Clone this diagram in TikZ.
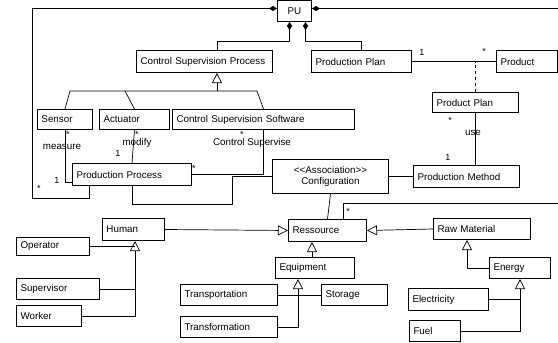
\documentclass[tikz,border=0pt]{standalone}
\usepackage{fontspec}
\setmainfont{Liberation Sans}
\usetikzlibrary{arrows.meta, positioning}

\begin{document}
\begin{tikzpicture}[x=1pt, y=-1pt, font=\fontsize{9.8}{11}\selectfont]
    \tikzstyle{cls} = [rectangle, draw=black, line width=1pt, anchor=north west, inner xsep=4pt, inner ysep=0pt, align=left]
    \tikzstyle{link} = [line width=0.7pt]
    \tikzstyle{gen} = [line width=0.7pt, -{Triangle[open, length=10pt, width=10pt]}]
    \tikzstyle{agg} = [line width=0.7pt, {Diamond[length=8pt, width=5pt]}-]
    \tikzstyle{mult} = [font=\fontsize{9}{10}\selectfont, inner sep=0pt]

    \useasboundingbox (0,0) rectangle (558,343);
    \clip (0,0) rectangle (558,343);

    % classes
    \node (pu) [cls, align=center, text width=26pt, minimum height=21pt] at (277,0) {PU};
    \node (csp) [cls, text width=128pt, minimum height=22pt] at (136,50) {Control Supervision Process};
    \node (pplan) [cls, text width=92pt, minimum height=22pt] at (311,50) {Production Plan};
    \node (product) [cls, text width=53pt, minimum height=22pt] at (496,50) {Product};
    \node (prodplan) [cls, text width=78pt, minimum height=20pt] at (432,92) {Product Plan};
    \node (sensor) [cls, text width=47pt, minimum height=20pt] at (37,109) {Sensor};
    \node (actuator) [cls, text width=62pt, minimum height=20pt] at (99,109) {Actuator};
    \node (css) [cls, text width=174pt, minimum height=20pt] at (172,109) {Control Supervision Software};
    \node (pprocess) [cls, text width=111pt, minimum height=22pt] at (72,163) {Production Process};
    \node (config) [cls, align=center, text width=108pt, minimum height=34pt] at (272,159) {{<}{<}Association{>}{>}\\Configuration};
    \node (pmethod) [cls, text width=98pt, minimum height=22pt] at (413,165) {Production Method};
    \node (human) [cls, text width=54pt, minimum height=22pt] at (102,218) {Human};
    \node (ressource) [cls, text width=70pt, minimum height=22pt] at (288,219) {Ressource};
    \node (rawmat) [cls, text width=89pt, minimum height=21pt] at (433,218) {Raw Material};
    \node (operator) [cls, text width=65pt, minimum height=18pt] at (16,237) {Operator};
    \node (supervisor) [cls, text width=75pt, minimum height=21pt] at (16,278) {Supervisor};
    \node (worker) [cls, text width=57pt, minimum height=21pt] at (16,305) {Worker};
    \node (equipment) [cls, text width=71pt, minimum height=21pt] at (275,257) {Equipment};
    \node (transport) [cls, text width=89pt, minimum height=21pt] at (180,284) {Transportation};
    \node (storage) [cls, text width=58pt, minimum height=21pt] at (321,284) {Storage};
    \node (transform) [cls, text width=89pt, minimum height=21pt] at (180,316) {Transformation};
    \node (energy) [cls, text width=53pt, minimum height=21pt] at (489,257) {Energy};
    \node (electricity) [cls, text width=72pt, minimum height=22pt] at (408,288) {Electricity};
    \node (fuel) [cls, text width=43pt, minimum height=21pt] at (409,320) {Fuel};

    % aggregations of PU
    \draw [agg] ([yshift=2.5pt]pu.west) -| (32,198) -| (pprocess.south -| 89,0)
        node [mult] at (39,188) {*};
    \draw [agg] ([yshift=2.5pt]pu.east) -| (566,203) -| (ressource.north -| 343,0)
        node [mult] at (348,211) {*};
    \draw [agg] ([xshift=-5pt]pu.south) -- ++(0,19) -| (csp.north -| 217,0);
    \draw [agg] ([xshift=11pt]pu.south) -- ++(0,19) -| (pplan.north);

    % control supervision
    \draw [gen] (217,91) -- (csp.south -| 217,0);
    \draw [link] (sensor.north) -- (70,91) -- (257,91) -- (css.north);
    \draw [link] (125,91) -- (actuator.north);

    % associations
    \draw [link] (sensor.south) |- ([yshift=-8pt]pprocess.west)
        node [mult] at (68,134) {*}
        node at (62,147) {measure}
        node [mult] at (57,180) {1};
    \draw [link] (actuator.south) -- (pprocess.north)
        node [mult] at (137,134) {*}
        node at (137,143) {modify}
        node [mult] at (118,153) {1};
    \draw [link] (css.south) |- (pprocess.east)
        node [mult] at (242,134) {*}
        node at (252,143) {Control Supervise}
        node [mult] at (194,168) {*};
    \draw [link] (pprocess.south) |- (232,204) |- (config.west);
    \draw [link] (config.east) -- (pmethod.west);
    \draw [link] (config.south) -- (ressource.north);
    \draw [link] (pplan.east) -- (product.west)
        node [mult] at (422,52) {1}
        node [mult] at (484,51) {*};
    \draw [link, dashed] (prodplan.north) -- (prodplan.north |- pplan.east);
    \draw [link] (prodplan.south) -- (prodplan.south |- pmethod.north)
        node [mult] at (450,120) {*}
        node at (473,133) {use}
        node [mult] at (448,157) {1};

    % resources
    \draw [gen] (human.east) -- (ressource.west);
    \draw [gen] (rawmat.west) -- (ressource.east);
    \draw [gen] (equipment.north -| 312,0) -- (ressource.south -| 312,0);
    \draw [gen] (worker.east) -| (human.south -| 135,0);
    \draw [link] (operator.east) -- (operator.east -| 135,0);
    \draw [link] (supervisor.east) -- (supervisor.east -| 135,0);
    \draw [gen] (transform.east) -| (equipment.south -| 298,0);
    \draw [link] (transport.east) -- (storage.west);
    \draw [gen] (energy.west) -| (rawmat.south -| 467,0);
    \draw [gen] (fuel.east) -| (energy.south);
    \draw [link] (electricity.east) -- (electricity.east -| energy.south);
\end{tikzpicture}
\end{document}
